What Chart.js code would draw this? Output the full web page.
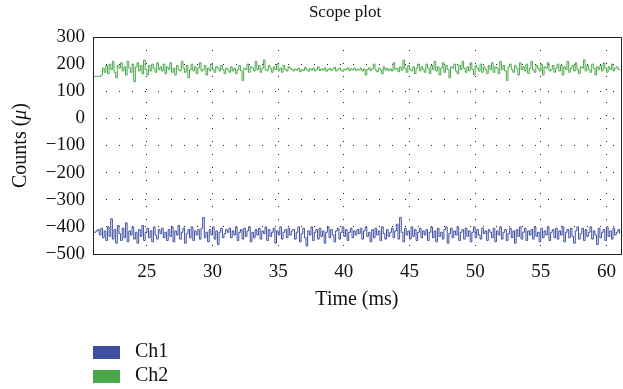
<!DOCTYPE html>
<html>
<head>
<meta charset="utf-8">
<script src="https://cdn.jsdelivr.net/npm/chart.js@4/dist/chart.umd.min.js"></script>
<style>
  html, body { margin: 0; padding: 0; background: #fff; }
  #wrap { width: 623px; height: 389px; position: relative; }
</style>
</head>
<body>
<div id="wrap"><canvas id="scopeChart" width="623" height="389"></canvas></div>
<script>
// scope samples, one every 0.125 ms starting at 21 ms
const startTime = 21;
const sampleStep = 0.125;

const ch1 = [
  -420,-415,-410,-430,-405,-440,-415,-450,-400,-435,-370,-445,-410,-460,-395,-425,-450,-405,-440,-385,
  -455,-415,-430,-400,-445,-420,-460,-410,-435,-395,-450,-420,-405,-440,-415,-455,-400,-430,-445,-410,-425,
  -405,-440,-420,-450,-410,-435,-400,-455,-415,-430,-395,-445,-420,-405,-460,-425,-410,-440,-400,-450,
  -415,-430,-410,-445,-405,-365,-440,-420,-455,-410,-430,-400,-445,-415,-465,-420,-405,-440,-425,-410,
  -420,-405,-440,-415,-430,-400,-450,-420,-410,-445,-405,-435,-415,-400,-455,-420,-440,-410,-430,-405,
  -445,-415,-425,-400,-450,-410,-435,-420,-405,-460,-415,-430,-400,-445,-420,-410,-440,-405,-430,-415,
  -410,-445,-420,-400,-455,-425,-405,-440,-470,-415,-430,-400,-450,-420,-410,-445,-405,-435,-415,-460,
  -420,-400,-440,-410,-430,-455,-415,-405,-445,-420,-400,-435,-410,-450,-420,-405,-440,-415,-430,-410,
  -425,-405,-445,-415,-400,-435,-420,-455,-410,-440,-405,-430,-415,-450,-400,-425,-445,-410,-435,-420,
  -405,-440,-415,-390,-445,-365,-420,-455,-405,-430,-415,-445,-400,-435,-410,-450,-420,-405,-440,-415,
  -430,-410,-450,-420,-400,-440,-415,-455,-405,-435,-420,-445,-410,-400,-460,-425,-405,-440,-415,-430,
  -400,-450,-420,-410,-445,-405,-435,-415,-455,-420,-400,-440,-410,-430,-445,-405,-425,-415,-450,-410,
  -420,-440,-405,-455,-415,-430,-400,-445,-420,-410,-450,-425,-405,-440,-415,-460,-410,-435,-400,-445,
  -420,-405,-450,-415,-430,-410,-445,-400,-435,-420,-455,-405,-440,-415,-430,-400,-450,-420,-410,-440,
  -405,-445,-415,-430,-400,-455,-420,-410,-440,-405,-435,-460,-415,-400,-445,-425,-405,-450,-410,-435,
  -420,-400,-445,-415,-430,-465,-405,-440,-420,-410,-450,-400,-435,-415,-445,-405,-430,-420,-410,-425
];

const ch2 = [
  155,155,155,155,160,185,170,195,165,200,180,210,170,150,195,185,205,175,190,160,
  210,185,170,200,135,190,205,175,195,165,215,180,160,195,175,200,185,170,205,180,190,
  175,200,165,190,180,205,170,185,160,195,180,175,210,185,170,195,150,180,200,175,
  190,165,185,205,175,180,195,160,185,175,200,180,170,190,185,175,195,180,165,185,
  180,170,190,175,185,165,180,195,175,140,185,180,200,170,190,185,175,210,180,195,
  170,185,215,180,175,195,185,170,190,180,200,175,185,170,195,180,175,190,185,180,
  175,182,178,185,172,180,176,188,180,174,183,178,185,175,180,190,176,182,178,186,
  174,180,184,177,182,188,175,180,185,178,174,182,180,186,176,183,179,185,177,181,
  178,185,175,182,160,180,186,176,183,200,178,172,185,180,165,190,178,184,176,182,
  175,205,180,185,172,190,178,215,185,170,195,180,175,190,165,185,200,175,190,180,
  170,200,185,165,195,180,210,175,190,160,185,205,170,195,180,150,190,185,200,175,
  165,195,180,210,185,170,190,175,205,180,160,195,185,175,200,170,190,180,165,195,
  180,205,170,190,185,165,210,180,195,175,140,190,200,180,170,195,185,160,205,180,
  190,175,200,165,185,210,180,170,195,185,175,200,160,190,185,205,175,180,195,170,
  185,200,175,195,160,190,180,210,170,185,195,175,205,180,165,190,185,215,175,195,
  180,170,200,185,160,190,180,195,175,205,185,170,190,180,200,175,185,190,180,182
];

const seriesNames = ['Ch1', 'Ch2'];
const seriesColors = ['#3f4fa0', '#4aa84a'];
const xTicks = [25, 30, 35, 40, 45, 50, 55, 60];
const yTicks = [-500, -400, -300, -200, -100, 0, 100, 200, 300];

const serif = '"Liberation Serif", "DejaVu Serif", serif';

const toPoints = arr => arr.map((v, i) => ({x: startTime + i * sampleStep, y: v}));

// title, axis titles, box and legend are drawn by hand
const extras = {
  id: 'extras',
  afterDraw(chart) {
    const c = chart.ctx;
    const a = chart.chartArea;
    c.save();
    c.strokeStyle = '#222';
    c.lineWidth = 1;
    c.strokeRect(Math.round(a.left) + 0.5, Math.round(a.top) + 0.5,
                 Math.round(a.right - a.left), Math.round(a.bottom - a.top));

    c.fillStyle = '#111';
    c.textAlign = 'center';
    c.textBaseline = 'middle';
    c.font = '17px ' + serif;
    c.fillText('Scope plot', 345, 13);
    c.font = '20px ' + serif;
    c.fillText('Time (ms)', (a.left + a.right) / 2, 300);

    // y title with italic mu
    c.translate(21, (a.top + a.bottom) / 2);
    c.rotate(-Math.PI / 2);
    const parts = [['Counts (', '20px '], ['μ', 'italic 20px '], [')', '20px ']];
    let w = 0;
    parts.forEach(p => { c.font = p[1] + serif; w += c.measureText(p[0]).width; });
    let x = -w / 2;
    c.textAlign = 'left';
    parts.forEach(p => {
      c.font = p[1] + serif;
      c.fillText(p[0], x, 0);
      x += c.measureText(p[0]).width;
    });
    c.restore();

    c.save();
    c.font = '20px ' + serif;
    c.textBaseline = 'middle';
    chart.data.datasets.forEach((ds, i) => {
      const y = 352 + i * 24;
      c.fillStyle = ds.borderColor;
      c.fillRect(93, y - 6, 27, 13);
      c.fillStyle = '#111';
      c.fillText(ds.label, 135, y);
    });
    c.restore();
  }
};

const ctx = document.getElementById('scopeChart').getContext('2d');

const scopeChart = new Chart(ctx, {
  type: 'line',
  data: {
    datasets: [ch1, ch2].map((arr, i) => ({
      label: seriesNames[i],
      data: toPoints(arr),
      borderColor: seriesColors[i],
      backgroundColor: seriesColors[i],
      borderWidth: 1,
      pointRadius: 0,
      stepped: true,
      fill: false
    }))
  },
  options: {
    responsive: false,
    animation: false,
    layout: {padding: {top: 37, right: 2, left: 0, bottom: 95}},
    plugins: {
      legend: {display: false},
      tooltip: {enabled: false}
    },
    scales: {
      x: {
        type: 'linear',
        min: 20.9,
        max: 61.1,
        afterBuildTicks: s => { s.ticks = xTicks.map(v => ({value: v})); },
        afterFit: s => { s.height = 40; },
        border: {display: false, dash: [1, 12]},
        grid: {color: '#222', lineWidth: 1, drawTicks: false},
        ticks: {color: '#111', font: {family: serif, size: 19}, padding: 7, maxRotation: 0}
      },
      y: {
        min: -500,
        max: 300,
        afterBuildTicks: s => { s.ticks = yTicks.map(v => ({value: v})); },
        afterFit: s => { s.width = 93; },
        border: {display: false, dash: [1, 12]},
        grid: {color: '#222', lineWidth: 1, drawTicks: false},
        ticks: {
          color: '#111',
          font: {family: serif, size: 19},
          padding: 8,
          callback: v => String(v).replace('-', '\u2212')
        }
      }
    }
  },
  plugins: [extras]
});
</script>
</body>
</html>
